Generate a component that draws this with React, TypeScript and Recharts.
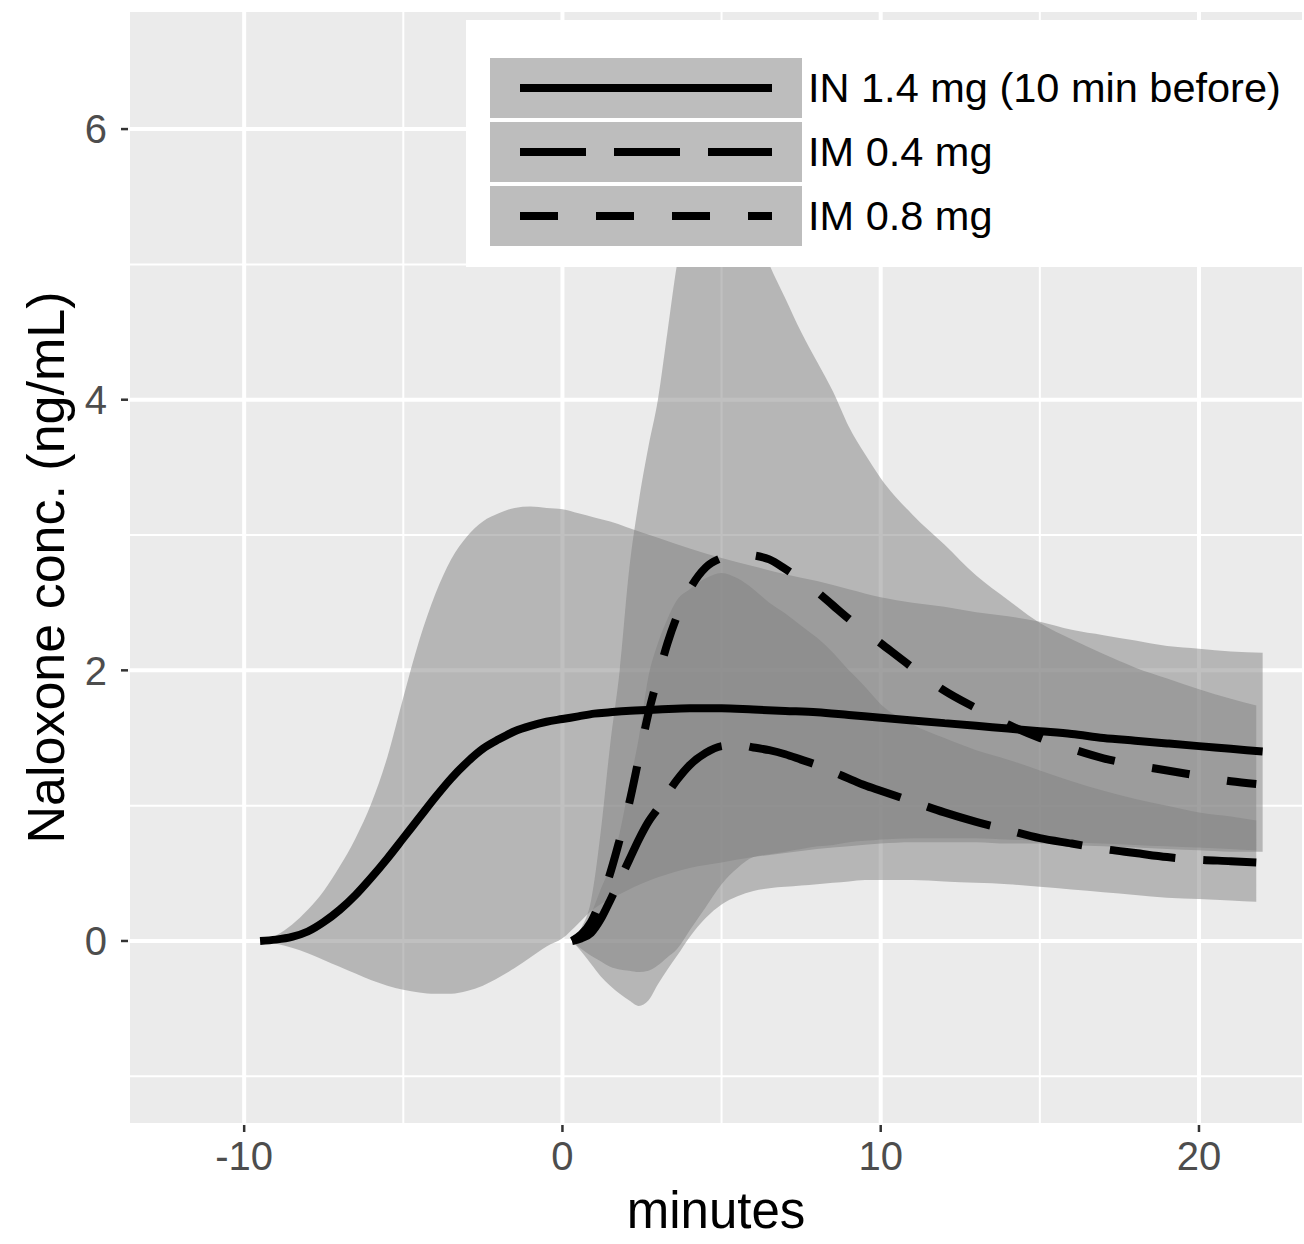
import React from 'react';
import {
  ComposedChart,
  Area,
  Line,
  XAxis,
  YAxis,
  CartesianGrid,
  Legend,
} from 'recharts';

// IN 1.4 mg, given 10 min before
const inTime = [-9.5, -9, -8.5, -8, -7.5, -7, -6.5, -6, -5.5, -5, -4.5, -4, -3.5, -3, -2.5, -2, -1.5, -1, -0.5, 0, 0.5, 1, 1.5, 2, 3, 4, 5, 6, 7, 8, 9, 10, 11, 12, 13, 14, 15, 16, 17, 18, 19, 20, 21, 22];
const inMean = [0, 0.01, 0.03, 0.07, 0.14, 0.23, 0.34, 0.47, 0.61, 0.76, 0.91, 1.06, 1.2, 1.32, 1.42, 1.49, 1.55, 1.59, 1.62, 1.64, 1.66, 1.68, 1.69, 1.7, 1.71, 1.72, 1.72, 1.71, 1.7, 1.69, 1.67, 1.65, 1.63, 1.61, 1.59, 1.57, 1.55, 1.53, 1.5, 1.48, 1.46, 1.44, 1.42, 1.4];
const inLow = [0, -0.02, -0.05, -0.09, -0.14, -0.19, -0.24, -0.29, -0.33, -0.36, -0.38, -0.39, -0.39, -0.37, -0.33, -0.27, -0.2, -0.12, -0.04, 0.02, 0.13, 0.24, 0.31, 0.37, 0.47, 0.54, 0.58, 0.62, 0.65, 0.68, 0.7, 0.72, 0.73, 0.73, 0.73, 0.72, 0.72, 0.71, 0.7, 0.69, 0.68, 0.67, 0.66, 0.66];
const inHigh = [0, 0.04, 0.12, 0.23, 0.37, 0.55, 0.76, 1.02, 1.36, 1.8, 2.22, 2.56, 2.82, 2.99, 3.1, 3.16, 3.2, 3.21, 3.2, 3.19, 3.16, 3.13, 3.1, 3.06, 2.98, 2.9, 2.83, 2.77, 2.71, 2.66, 2.6, 2.54, 2.5, 2.47, 2.43, 2.4, 2.36, 2.3, 2.26, 2.22, 2.18, 2.16, 2.14, 2.13];

// IM doses
const imTime = [0.3, 0.6, 0.9, 1.2, 1.5, 1.8, 2.1, 2.4, 2.7, 3, 3.3, 3.6, 4, 4.5, 5, 5.5, 6, 6.5, 7, 7.5, 8, 8.5, 9, 9.5, 10, 11, 12, 13, 14, 15, 16, 17, 18, 19, 20, 21, 21.8];
const im04Mean = [0, 0.02, 0.06, 0.16, 0.3, 0.45, 0.6, 0.75, 0.88, 0.98, 1.09, 1.19, 1.3, 1.39, 1.44, 1.45, 1.43, 1.41, 1.38, 1.34, 1.3, 1.25, 1.2, 1.15, 1.11, 1.03, 0.95, 0.88, 0.82, 0.76, 0.72, 0.68, 0.65, 0.62, 0.6, 0.59, 0.58];
const im04Low = [0, -0.08, -0.17, -0.26, -0.33, -0.39, -0.44, -0.48, -0.44, -0.32, -0.21, -0.11, 0.03, 0.17, 0.27, 0.33, 0.37, 0.39, 0.4, 0.41, 0.42, 0.43, 0.44, 0.45, 0.45, 0.45, 0.44, 0.43, 0.42, 0.4, 0.38, 0.36, 0.34, 0.32, 0.31, 0.3, 0.29];
const im04High = [0, 0.08, 0.2, 0.38, 0.55, 0.8, 1.15, 1.5, 1.95, 2.2, 2.38, 2.52, 2.6, 2.68, 2.72, 2.68, 2.6, 2.5, 2.42, 2.33, 2.24, 2.13, 2.0, 1.88, 1.75, 1.6, 1.5, 1.41, 1.34, 1.26, 1.18, 1.11, 1.05, 1.0, 0.95, 0.92, 0.89];
const im08Mean = [0, 0.05, 0.14, 0.3, 0.5, 0.75, 1.02, 1.35, 1.68, 1.95, 2.2, 2.4, 2.6, 2.76, 2.83, 2.86, 2.85, 2.82, 2.75, 2.67, 2.58, 2.48, 2.38, 2.29, 2.2, 2.02, 1.85, 1.72, 1.6, 1.5, 1.42, 1.35, 1.3, 1.26, 1.22, 1.18, 1.16];
const im08Low = [0, -0.06, -0.11, -0.15, -0.19, -0.21, -0.22, -0.23, -0.22, -0.18, -0.12, -0.06, 0.08, 0.25, 0.42, 0.54, 0.62, 0.64, 0.66, 0.68, 0.7, 0.71, 0.73, 0.74, 0.75, 0.76, 0.76, 0.76, 0.75, 0.74, 0.73, 0.72, 0.71, 0.7, 0.69, 0.68, 0.67];
const im08High = [0, 0.1, 0.3, 0.8, 1.45, 2.0, 2.75, 3.25, 3.65, 4.0, 4.5, 5.0, 5.4, 5.6, 5.6, 5.5, 5.3, 5.0, 4.75, 4.5, 4.28, 4.06, 3.8, 3.6, 3.42, 3.15, 2.93, 2.7, 2.52, 2.35, 2.23, 2.12, 2.02, 1.94, 1.86, 1.79, 1.74];

const xTicks = [-10, 0, 10, 20];
const xMinorTicks = [-5, 5, 15];
const yTicks = [0, 2, 4, 6];
const yMinorTicks = [-1, 1, 3, 5];
const xDomain = [-13.65, 23.3];
const yDomain = [-1.36, 6.88];

const legendLabels = ['IN 1.4 mg (10 min before)', 'IM 0.4 mg', 'IM 0.8 mg'];
const legendDashes = ['0', '66 28', '38 38'];

const FONT = '"Liberation Sans", Arial, Helvetica, sans-serif';
const BAND_FILL = '#828282';
const BAND_OPACITY = 0.5;

const band = (t: number[], lo: number[], hi: number[]) =>
  t.map((x, i) => ({ t: x, range: [lo[i], hi[i]] }));
const curve = (t: number[], v: number[]) => t.map((x, i) => ({ t: x, v: v[i] }));

const inBand = band(inTime, inLow, inHigh);
const im04Band = band(imTime, im04Low, im04High);
const im08Band = band(imTime, im08Low, im08High);
const inLine = curve(inTime, inMean);
const im04Line = curve(imTime, im04Mean);
const im08Line = curve(imTime, im08Mean);

const renderLegend = () => (
  <div style={{ position: 'relative', width: 838, height: 247, background: '#FFFFFF', fontFamily: FONT }}>
    {legendLabels.map((label, i) => (
      <div key={label}>
        <svg
          width={312}
          height={60}
          style={{ position: 'absolute', left: 24, top: 38 + i * 64 }}
        >
          <rect x={0} y={0} width={312} height={60} fill="#BDBDBD" />
          <line
            x1={30}
            x2={282}
            y1={30}
            y2={30}
            stroke="#000"
            strokeWidth={8}
            strokeDasharray={legendDashes[i]}
          />
        </svg>
        <div
          style={{
            position: 'absolute',
            left: 342,
            top: 38 + i * 64,
            height: 60,
            lineHeight: '60px',
            fontSize: 41.5,
            color: '#000',
            whiteSpace: 'nowrap',
          }}
        >
          {label}
        </div>
      </div>
    ))}
  </div>
);

export default function App() {
  return (
    <div style={{ position: 'absolute', left: 0, top: 0, width: 1304, height: 1244, background: '#fff' }}>
      <ComposedChart width={1304} height={1244} margin={{ top: 10, right: 0, bottom: 0, left: 0 }}>
        <CartesianGrid fill="#EBEBEB" stroke="#FFFFFF" strokeWidth={4} />
        <CartesianGrid xAxisId="minor" yAxisId="minor" stroke="#FFFFFF" strokeWidth={2} />
        <XAxis
          type="number"
          dataKey="t"
          domain={xDomain}
          ticks={xTicks}
          allowDataOverflow
          height={119}
          axisLine={false}
          tickSize={7}
          tickMargin={10}
          tickLine={{ stroke: '#333333', strokeWidth: 2.5 }}
          tick={{ fontSize: 40, fill: '#4D4D4D', fontFamily: FONT }}
          label={{ value: 'minutes', position: 'insideBottom', offset: 16, fontSize: 51, fill: '#000', fontFamily: FONT }}
        />
        <YAxis
          type="number"
          domain={yDomain}
          ticks={yTicks}
          allowDataOverflow
          width={128}
          axisLine={false}
          tickSize={7}
          tickMargin={14}
          tickLine={{ stroke: '#333333', strokeWidth: 2.5 }}
          tick={{ fontSize: 40, fill: '#4D4D4D', fontFamily: FONT }}
          label={{
            value: 'Naloxone conc. (ng/mL)',
            angle: -90,
            position: 'insideLeft',
            offset: 46,
            fontSize: 52,
            fill: '#000',
            fontFamily: FONT,
            style: { textAnchor: 'middle' },
          }}
        />
        <XAxis xAxisId="minor" type="number" dataKey="t" domain={xDomain} ticks={xMinorTicks} allowDataOverflow hide />
        <YAxis yAxisId="minor" type="number" domain={yDomain} ticks={yMinorTicks} allowDataOverflow hide />

        <Area data={inBand} dataKey="range" type="monotone" stroke="none" fill={BAND_FILL} fillOpacity={BAND_OPACITY} isAnimationActive={false} />
        <Area data={im04Band} dataKey="range" type="monotone" stroke="none" fill={BAND_FILL} fillOpacity={BAND_OPACITY} isAnimationActive={false} />
        <Area data={im08Band} dataKey="range" type="monotone" stroke="none" fill={BAND_FILL} fillOpacity={BAND_OPACITY} isAnimationActive={false} />

        <Line data={inLine} dataKey="v" type="monotone" stroke="#000" strokeWidth={8} dot={false} activeDot={false} isAnimationActive={false} />
        <Line data={im04Line} dataKey="v" type="monotone" stroke="#000" strokeWidth={8} strokeDasharray="66 28" dot={false} activeDot={false} isAnimationActive={false} />
        <Line data={im08Line} dataKey="v" type="monotone" stroke="#000" strokeWidth={8} strokeDasharray="38 38" dot={false} activeDot={false} isAnimationActive={false} />

        <Legend
          content={renderLegend}
          layout="vertical"
          align="center"
          verticalAlign="middle"
          wrapperStyle={{ left: 466, top: 20, width: 838, height: 247 }}
        />
      </ComposedChart>
    </div>
  );
}
